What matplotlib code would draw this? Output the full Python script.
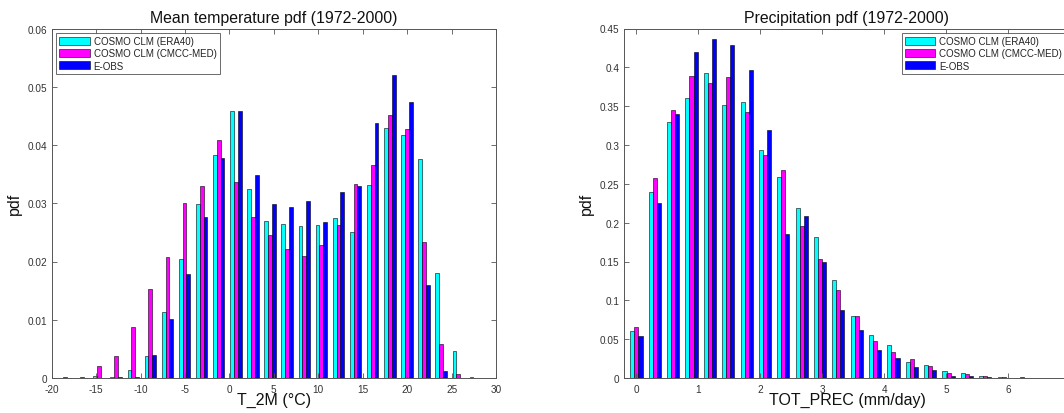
import matplotlib
matplotlib.use("Agg")
import matplotlib.pyplot as plt
from matplotlib.ticker import FixedLocator, FixedFormatter

plt.rcParams['font.family'] = ['Liberation Sans', 'DejaVu Sans']
plt.rcParams['axes.unicode_minus'] = False

# ---------------- data ----------------
series_names = ["COSMO CLM (ERA40)", "COSMO CLM (CMCC-MED)", "E-OBS"]
series_colors = ["#00FFFF", "#FF00FF", "#0000FF"]

# Temperature pdf (bin centers in degC)
temp_centers = [-18.52, -16.60, -14.67, -12.75, -10.82, -8.90, -6.97, -5.05,
                -3.12, -1.20, 0.73, 2.65, 4.58, 6.50, 8.43, 10.35, 12.28,
                14.20, 16.13, 18.05, 19.98, 21.90, 23.83, 25.75, 27.68]
temp_era40 = [0.0, 0.0, 0.0003, 0.0002, 0.0014, 0.0037, 0.0114, 0.0205,
              0.0299, 0.0382, 0.0458, 0.0324, 0.0270, 0.0265, 0.0261, 0.0263,
              0.0275, 0.0250, 0.0331, 0.0429, 0.0418, 0.0376, 0.0180, 0.0047,
              0.0002]
temp_cmcc = [0.0001, 0.0002, 0.0021, 0.0037, 0.0088, 0.0152, 0.0208, 0.0300,
             0.0329, 0.0408, 0.0337, 0.0276, 0.0246, 0.0222, 0.0210, 0.0228,
             0.0263, 0.0333, 0.0366, 0.0451, 0.0428, 0.0233, 0.0059, 0.0007,
             0.0]
temp_eobs = [0.0, 0.0, 0.0, 0.0001, 0.0002, 0.0039, 0.0102, 0.0179,
             0.0276, 0.0378, 0.0458, 0.0349, 0.0298, 0.0294, 0.0304, 0.0268,
             0.0320, 0.0329, 0.0438, 0.0520, 0.0474, 0.0160, 0.0012, 0.0,
             0.0]
temp_bin = 1.925

# Precipitation pdf (bin centers in mm/day)
prec_centers = [0.0, 0.30, 0.59, 0.89, 1.19, 1.48, 1.78, 2.08, 2.37, 2.67,
                2.97, 3.26, 3.56, 3.85, 4.15, 4.45, 4.74, 5.04, 5.34, 5.63,
                5.93, 6.23, 6.52, 6.82]
prec_era40 = [0.061, 0.240, 0.330, 0.360, 0.393, 0.351, 0.356, 0.293, 0.259,
              0.219, 0.181, 0.126, 0.080, 0.056, 0.043, 0.021, 0.017, 0.009,
              0.006, 0.002, 0.001, 0.0005, 0.0003, 0.0002]
prec_cmcc = [0.066, 0.257, 0.345, 0.389, 0.380, 0.388, 0.342, 0.287, 0.268,
             0.196, 0.153, 0.113, 0.080, 0.047, 0.034, 0.024, 0.015, 0.006,
             0.005, 0.003, 0.0015, 0.0008, 0.0005, 0.0003]
prec_eobs = [0.054, 0.225, 0.340, 0.420, 0.436, 0.429, 0.396, 0.319, 0.185,
             0.209, 0.149, 0.087, 0.062, 0.036, 0.026, 0.014, 0.010, 0.003,
             0.002, 0.001, 0.0005, 0.0003, 0.0002, 0.0001]
prec_bin = 0.2965

temp_xticks = [-20, -15, -10, -5, 0, 5, 10, 15, 20, 25, 30]
temp_yticks = [0, 0.01, 0.02, 0.03, 0.04, 0.05, 0.06]
temp_ylabels = ["0", "0.01", "0.02", "0.03", "0.04", "0.05", "0.06"]
prec_xticks = [0, 1, 2, 3, 4, 5, 6]
prec_yticks = [0, 0.05, 0.1, 0.15, 0.2, 0.25, 0.3, 0.35, 0.4, 0.45]
prec_ylabels = ["0", "0.05", "0.1", "0.15", "0.2", "0.25", "0.3", "0.35", "0.4", "0.45"]

# ---------------- figure ----------------
W, H = 1064, 414
fig = plt.figure(figsize=(W / 100, H / 100), dpi=100)

def ax_rect(l, r, t, b):
    return [l / W, 1 - b / H, (r - l) / W, (b - t) / H]

ax1 = fig.add_axes(ax_rect(51.7, 496.0, 29.5, 379.0))
ax2 = fig.add_axes(ax_rect(624.0, 1070.0, 29.5, 379.0))

spine_col = "#555555"
tick_col = "#333333"

def draw(ax, centers, vals, binw, xlim, ylim, xticks, yticks, ylabels,
         title, xlabel, legend_loc):
    frac = 0.222
    offsets = [-frac * binw, 0.0, frac * binw]
    for v, off, col, name in zip(vals, offsets, series_colors, series_names):
        ax.bar([c + off for c in centers], v, width=frac * binw, color=col,
               edgecolor="black", linewidth=0.4, label=name, align="center")
    ax.set_xlim(*xlim)
    ax.set_ylim(*ylim)
    ax.xaxis.set_major_locator(FixedLocator(xticks))
    ax.yaxis.set_major_locator(FixedLocator(yticks))
    ax.yaxis.set_major_formatter(FixedFormatter(ylabels))
    ax.tick_params(direction="in", length=3.5, width=0.6, colors=spine_col,
                   labelcolor=tick_col, labelsize=7.2, top=True, right=True,
                   pad=2.5)
    ax.tick_params(axis="x", pad=4)
    ax.tick_params(axis="y", pad=3.5)
    for s in ax.spines.values():
        s.set_color(spine_col)
        s.set_linewidth(0.7)
    ax.set_title(title, fontsize=11.4, pad=5, color="#111111")
    ax.set_xlabel(xlabel, fontsize=11.5, labelpad=-1, color="#111111")
    ax.set_ylabel("pdf", fontsize=11.5, labelpad=4, color="#111111")
    leg = ax.legend(loc=legend_loc, fontsize=7, frameon=True, fancybox=False,
                    handlelength=3.1, handleheight=0.95, handletextpad=0.4,
                    labelspacing=0.22, borderpad=0.35, borderaxespad=0.45)
    leg.get_frame().set_edgecolor("#444444")
    leg.get_frame().set_linewidth(0.7)
    for t in leg.get_texts():
        t.set_color("#222222")

draw(ax1, temp_centers, [temp_era40, temp_cmcc, temp_eobs], temp_bin,
     (-20, 30), (0, 0.06), temp_xticks, temp_yticks, temp_ylabels,
     "Mean temperature pdf (1972-2000)", "T_2M (°C)", "upper left")
draw(ax2, prec_centers, [prec_era40, prec_cmcc, prec_eobs], prec_bin,
     (-0.2, 7.0), (0, 0.45), prec_xticks, prec_yticks, prec_ylabels,
     "Precipitation pdf (1972-2000)", "TOT_PREC (mm/day)", "upper right")

fig.savefig("out.png", dpi=100)
